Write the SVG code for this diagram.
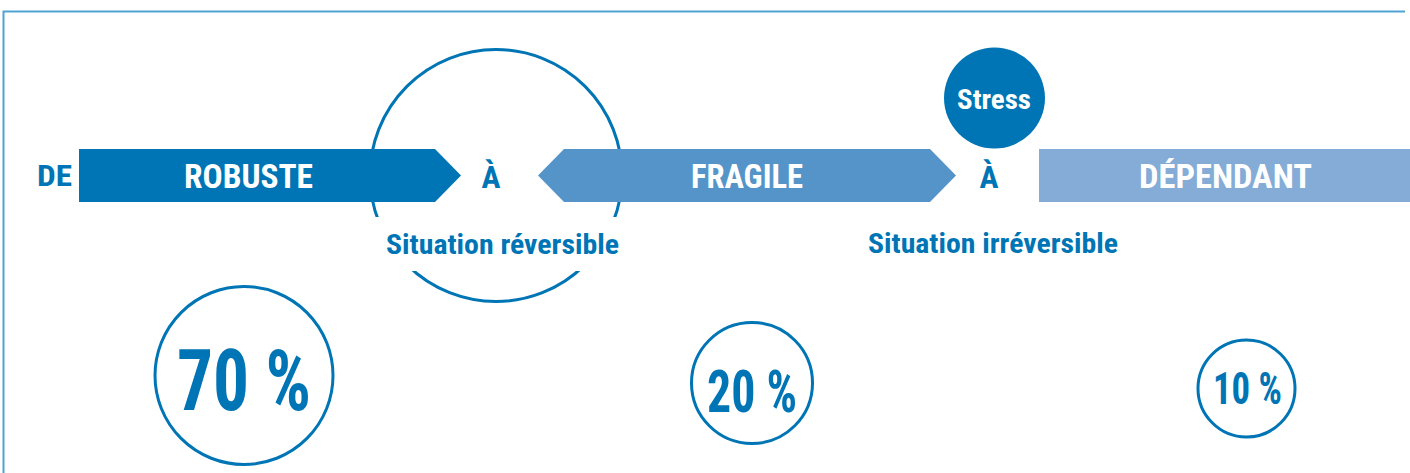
<svg xmlns="http://www.w3.org/2000/svg" width="1410" height="473" viewBox="0 0 1410 473">
<style>
.t{font-family:"Liberation Sans Narrow","Roboto Condensed","DejaVu Sans Condensed","Liberation Sans",Arial,sans-serif;font-weight:bold;text-anchor:middle}
.w{fill:#ffffff}
.b{fill:#0075b5}
.ring{fill:none;stroke:#0075b5;stroke-width:3}
</style>
<rect width="1410" height="473" fill="#ffffff"/>
<path id="frame" d="M3.5,473 V11.5 H1405" fill="none" stroke="#4ea3d3" stroke-width="2"/>
<g id="reversible-circle">
<circle cx="496" cy="175.5" r="126" class="ring"/>
<rect x="360" y="217" width="280" height="54" fill="#ffffff"/>
<text class="t b" x="502.5" y="254" font-size="28" textLength="233" lengthAdjust="spacingAndGlyphs">Situation réversible</text>
</g>
<g id="de"><text class="t b" x="54.5" y="186" font-size="29" textLength="35" lengthAdjust="spacingAndGlyphs">DE</text></g>
<g id="robuste">
<polygon points="79,149 435,149 461,175.5 435,202 79,202" fill="#0075b5"/>
<text class="t w" x="248.5" y="187.5" font-size="33" textLength="129" lengthAdjust="spacingAndGlyphs">ROBUSTE</text>
</g>
<g id="a1"><text class="t b" x="491" y="188" font-size="32" textLength="19" lengthAdjust="spacingAndGlyphs">À</text></g>
<g id="fragile">
<polygon points="538,175.5 564,149 930,149 956,175.5 930,202 564,202" fill="#5594c8"/>
<text class="t w" x="747" y="188" font-size="33" textLength="112" lengthAdjust="spacingAndGlyphs">FRAGILE</text>
</g>
<g id="a2"><text class="t b" x="989" y="188" font-size="32" textLength="19" lengthAdjust="spacingAndGlyphs">À</text></g>
<g id="stress">
<circle cx="994.5" cy="98" r="50.5" fill="#0075b5"/>
<text class="t w" x="994" y="109" font-size="28" textLength="74" lengthAdjust="spacingAndGlyphs">Stress</text>
</g>
<g id="dependant">
<rect x="1039" y="149" width="371" height="53" fill="#84acd6"/>
<text class="t w" x="1225.5" y="188" font-size="33" textLength="173" lengthAdjust="spacingAndGlyphs">DÉPENDANT</text>
</g>
<g id="irreversible"><text class="t b" x="993" y="253" font-size="28" textLength="250" lengthAdjust="spacingAndGlyphs">Situation irréversible</text></g>
<g id="p70">
<circle cx="244" cy="375.5" r="89" class="ring"/>
<text class="t b" x="244" y="410" font-size="85" textLength="134" lengthAdjust="spacingAndGlyphs">70 %</text>
</g>
<g id="p20">
<circle cx="752" cy="383" r="60.5" class="ring"/>
<text class="t b" x="752" y="412" font-size="60" textLength="90" lengthAdjust="spacingAndGlyphs">20 %</text>
</g>
<g id="p10">
<circle cx="1246.5" cy="388.5" r="48.5" class="ring"/>
<text class="t b" x="1247.5" y="404" font-size="44" textLength="69" lengthAdjust="spacingAndGlyphs">10 %</text>
</g>
<g id="connectors"></g>
</svg>
